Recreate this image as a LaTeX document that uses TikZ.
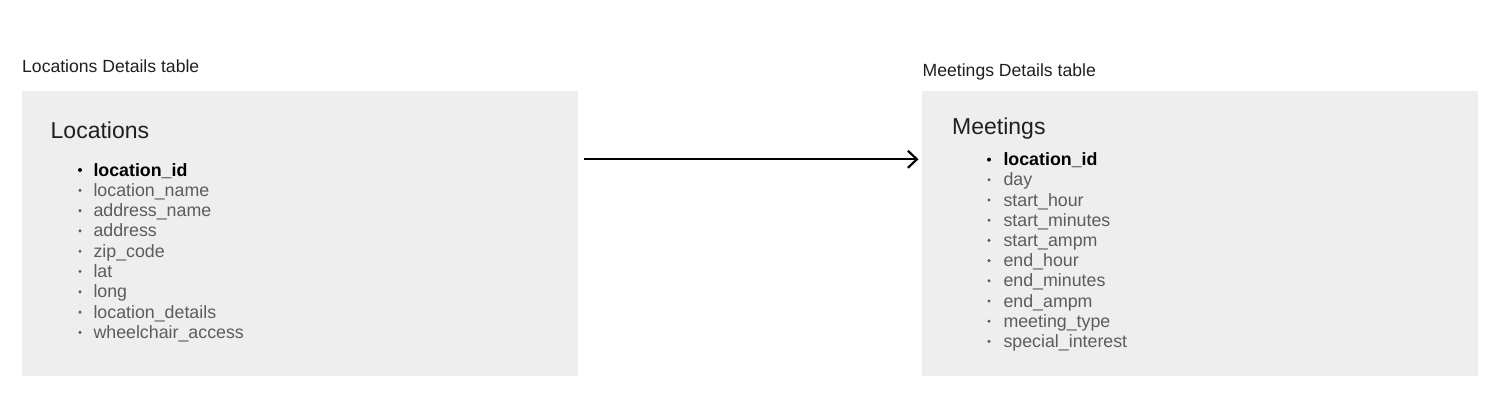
\documentclass[tikz,border=0pt]{standalone}
\usepackage{fontspec}
\setmainfont{Liberation Sans}
\usetikzlibrary{arrows.meta}
\definecolor{boxgray}{HTML}{EEEEEE}
\definecolor{itemgray}{HTML}{5C5C5C}
\definecolor{headtext}{HTML}{1F1F1F}
\begin{document}
\begin{tikzpicture}[x=1pt,y=-1pt,
  tablebox/.style={fill=boxgray,draw=none,minimum width=556pt,minimum height=285pt,anchor=north west,inner sep=0pt},
  caption/.style={anchor=base west,inner sep=0pt,font=\fontsize{17.6}{20}\selectfont,text=headtext},
  heading/.style={anchor=base west,inner sep=0pt,font=\fontsize{23}{27}\selectfont,text=headtext},
  keyitem/.style={anchor=base west,inner sep=0pt,font=\fontsize{17.8}{21}\selectfont\bfseries,text=black},
  item/.style={anchor=base west,inner sep=0pt,font=\fontsize{17.8}{21}\selectfont,text=itemgray},
  bul/.style={circle,fill=#1,inner sep=0pt,minimum size=3.4pt},
  link/.style={line width=2.2pt,-{Straight Barb[length=9pt,width=17pt,line width=2.2pt]}}
]
\useasboundingbox (0,0) rectangle (1503,413);
% boxes
\node[tablebox] (L) at (22,91) {};
\node[tablebox] (R) at (922,91) {};
% captions
\node[caption] (Lcap) at (22,72) {Locations Details table};
\node[caption] (Rcap) at (922.5,76) {Meetings Details table};
% headings
\node[heading] (Lhead) at (50.5,138.3) {Locations};
\node[heading] (Rhead) at (952,134) {Meetings};
% left list
\foreach \t [count=\i from 1] in {location\_name,address\_name,address,zip\_code,lat,long,location\_details,wheelchair\_access}{
  \node[bul=itemgray] (Lb\i) at (80,{176+20.3*\i-6}) {};
  \node[item] (Li\i) at (93.3,{176+20.3*\i}) {\t};
}
\node[bul=black,minimum size=4pt] (Lbk) at (80,170) {};
\node[keyitem] (Lkey) at (93.3,176) {location\_id};
% right list
\foreach \t [count=\i from 1] in {day,start\_hour,start\_minutes,start\_ampm,end\_hour,end\_minutes,end\_ampm,meeting\_type,special\_interest}{
  \node[bul=itemgray] (Rb\i) at (989,{165.6+20.2*\i-6}) {};
  \node[item] (Ri\i) at (1003.3,{165.6+20.2*\i}) {\t};
}
\node[bul=black,minimum size=4pt] (Rbk) at (989,159.6) {};
\node[keyitem] (Rkey) at (1003.3,165.6) {location\_id};
% connector
\coordinate (arrowy) at (0,159.3);
\draw[link] ([xshift=5.5pt]L.east |- arrowy) -- ([xshift=-3.5pt]R.west |- arrowy);
\end{tikzpicture}
\end{document}
